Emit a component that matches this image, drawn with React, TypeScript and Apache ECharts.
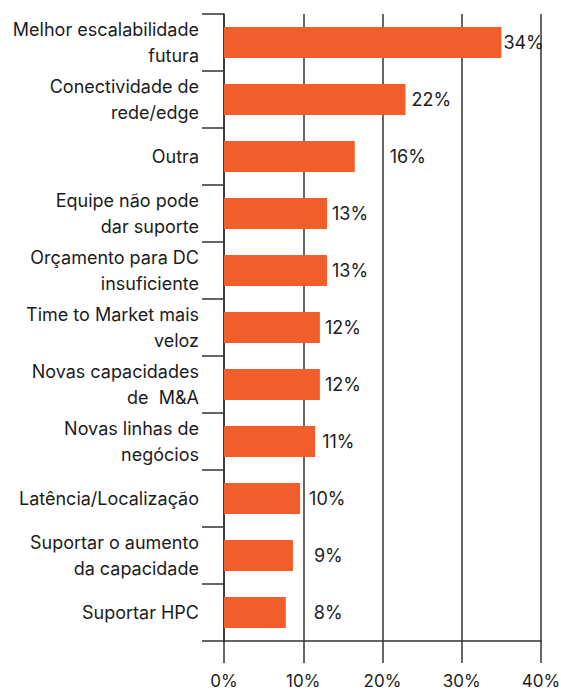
import React, { useEffect, useRef } from "react";
import * as echarts from "echarts";

const categories = [
  "Melhor escalabilidade\nfutura",
  "Conectividade de\nrede/edge",
  "Outra",
  "Equipe não pode\ndar suporte",
  "Orçamento para DC\ninsuficiente",
  "Time to Market mais\nveloz",
  "Novas capacidades\nde  M&A",
  "Novas linhas de\nnegócios",
  "Latência/Localização",
  "Suportar o aumento\nda capacidade",
  "Suportar HPC",
];

// bar lengths (percent)
const barValues = [35.0, 22.9, 16.5, 13.0, 13.0, 12.1, 12.1, 11.5, 9.6, 8.7, 7.8];
// printed labels
const valueLabels = ["34%", "22%", "16%", "13%", "13%", "12%", "12%", "11%", "10%", "9%", "8%"];
const xTicks = [0, 10, 20, 30, 40];

// label horizontal nudges (style only)
const labelNudge = [-3, 1, 30, 0, 0, 0, 0, 2, 4, 16, 23];

const FONT = "Inter, 'Noto Sans', sans-serif";
const INK = "#1c1c1c";
const LINE = "#333333";
const BAR = "#F15E2B";

export default function App() {
  const ref = useRef<HTMLDivElement>(null);
  useEffect(() => {
    if (!ref.current) return;
    const chart = echarts.init(ref.current, undefined, { renderer: "svg" });
    chart.setOption({
      animation: false,
      backgroundColor: "#ffffff",
      grid: {
        left: 224,
        right: 20,
        top: 14,
        bottom: 50,
        containLabel: false,
        outerBoundsMode: "none",
      },
      xAxis: {
        type: "value",
        min: xTicks[0],
        max: xTicks[xTicks.length - 1],
        interval: 10,
        axisLine: { show: true, lineStyle: { color: LINE, width: 1.5 } },
        axisTick: { show: true, length: 22, lineStyle: { color: LINE, width: 1.5 } },
        splitLine: { show: true, lineStyle: { color: LINE, width: 1.5 } },
        axisLabel: {
          margin: 31,
          fontFamily: FONT,
          fontSize: 17,
          color: INK,
          formatter: (v: number) => `${v}%`,
        },
      },
      yAxis: {
        type: "category",
        inverse: true,
        data: categories,
        axisLine: { show: true, lineStyle: { color: LINE, width: 1.5 } },
        axisTick: { show: true, length: 22, lineStyle: { color: LINE, width: 1.5 } },
        axisLabel: {
          margin: 25,
          fontFamily: FONT,
          fontSize: 18,
          lineHeight: 26,
          color: INK,
          align: "right",
        },
      },
      series: [
        {
          type: "bar",
          barWidth: 31,
          itemStyle: { color: BAR },
          data: barValues.map((v, i) => ({
            value: v,
            label: {
              show: true,
              position: "right",
              distance: 5,
              offset: [labelNudge[i], 0],
              formatter: () => valueLabels[i],
              fontFamily: FONT,
              fontSize: 18,
              color: INK,
            },
          })),
        },
      ],
    });
    return () => chart.dispose();
  }, []);
  return (
    <div
      ref={ref}
      style={{ position: "fixed", left: 0, top: 0, width: 561, height: 691, background: "#fff" }}
    />
  );
}
